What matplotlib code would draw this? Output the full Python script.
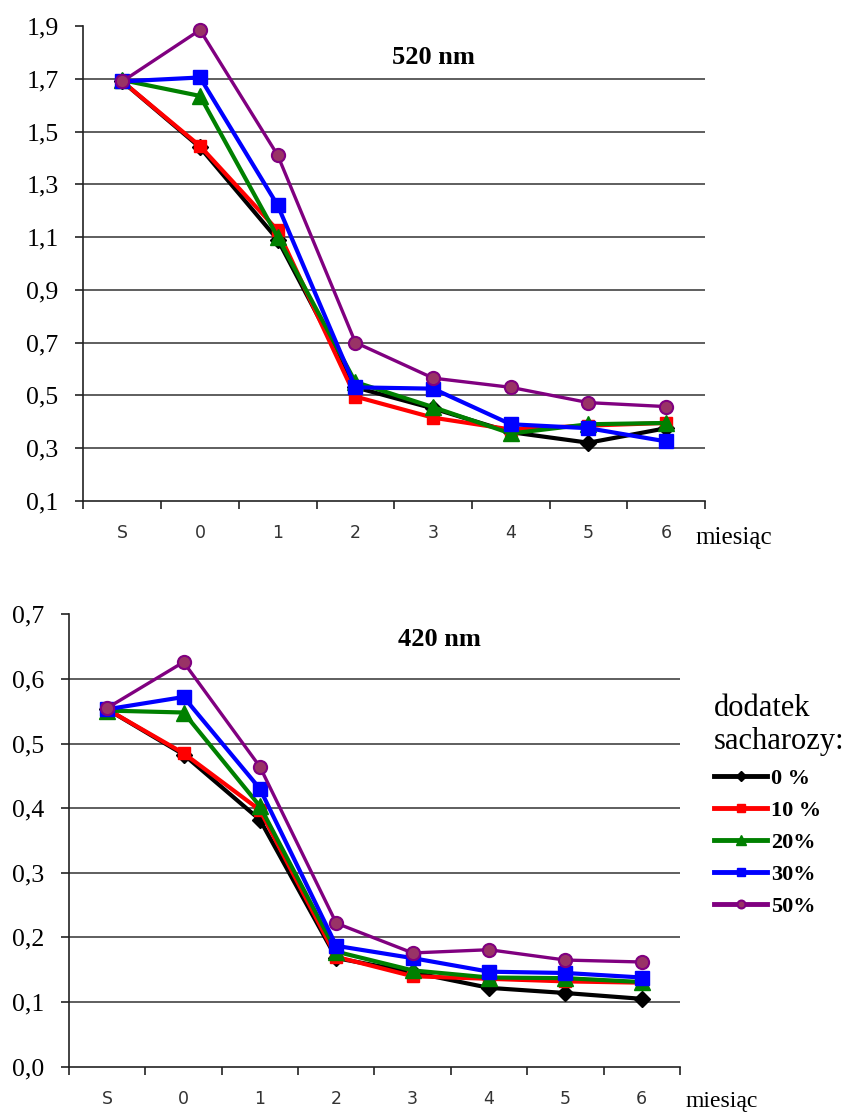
import matplotlib
matplotlib.use("Agg")
import matplotlib.pyplot as plt
from matplotlib.ticker import FixedLocator, FixedFormatter

# ---- data ----
categories = ["S", "0", "1", "2", "3", "4", "5", "6"]
series_labels = ["0 %", "10 %", "20%", "30%", "50%"]

# 520 nm
top_0 = [1.69, 1.44, 1.09, 0.53, 0.45, 0.36, 0.32, 0.375]
top_10 = [1.69, 1.445, 1.125, 0.495, 0.415, 0.37, 0.385, 0.395]
top_20 = [1.695, 1.635, 1.10, 0.55, 0.455, 0.355, 0.39, 0.395]
top_30 = [1.69, 1.705, 1.22, 0.53, 0.525, 0.39, 0.375, 0.325]
top_50 = [1.69, 1.885, 1.41, 0.70, 0.565, 0.53, 0.472, 0.457]

# 420 nm
bot_0 = [0.553, 0.483, 0.382, 0.168, 0.146, 0.122, 0.114, 0.105]
bot_10 = [0.553, 0.485, 0.397, 0.170, 0.140, 0.136, 0.132, 0.130]
bot_20 = [0.551, 0.548, 0.403, 0.178, 0.149, 0.138, 0.137, 0.131]
bot_30 = [0.553, 0.572, 0.430, 0.187, 0.168, 0.147, 0.145, 0.138]
bot_50 = [0.555, 0.626, 0.464, 0.222, 0.176, 0.181, 0.165, 0.162]

top_yticks = [0.1, 0.3, 0.5, 0.7, 0.9, 1.1, 1.3, 1.5, 1.7, 1.9]
top_ylabels = ["0,1", "0,3", "0,5", "0,7", "0,9", "1,1", "1,3", "1,5", "1,7", "1,9"]
bot_yticks = [0.0, 0.1, 0.2, 0.3, 0.4, 0.5, 0.6, 0.7]
bot_ylabels = ["0,0", "0,1", "0,2", "0,3", "0,4", "0,5", "0,6", "0,7"]

# ---- styles ----
styles = [
    dict(color="black", marker="D", ms=8, lw=3.0, mfc="black", mec="black"),
    dict(color="#ff0000", marker="s", ms=9, lw=3.0, mfc="#ff0000", mec="#ff0000"),
    dict(color="#008000", marker="^", ms=11, lw=3.0, mfc="#008000", mec="#008000"),
    dict(color="#0000ff", marker="s", ms=9.5, lw=3.0, mfc="#0000ff", mec="#0000ff"),
    dict(color="#800080", marker="o", ms=9.5, lw=2.4, mfc="#993366", mec="#800080", mew=1.5),
]

serif = ["Liberation Serif", "DejaVu Serif"]

fig = plt.figure(figsize=(8.49, 11.13), dpi=100)
ax1 = fig.add_axes([0.0983, 0.5501, 0.7321, 0.4265])
ax2 = fig.add_axes([0.0813, 0.0416, 0.7196, 0.4065])

x = list(range(len(categories)))


def style_axes(ax, yticks, ylabels, ylim):
    ax.set_xlim(-0.5, len(categories) - 0.5)
    ax.set_ylim(*ylim)
    for s in ["top", "right"]:
        ax.spines[s].set_visible(False)
    for s in ["left", "bottom"]:
        ax.spines[s].set_color("#222222")
        ax.spines[s].set_linewidth(1.2)
    ax.set_yticks(yticks)
    ax.set_yticklabels(ylabels, fontfamily=serif, fontsize=18.5)
    ax.tick_params(axis="y", direction="out", length=6, width=1.2, pad=12, colors="#222222",
                   labelcolor="black")
    for yv in yticks[1:-1]:
        ax.axhline(yv, color="#333333", lw=1.1, zorder=1)
    ax.xaxis.set_major_locator(FixedLocator(x))
    ax.xaxis.set_major_formatter(FixedFormatter(categories))
    ax.xaxis.set_minor_locator(FixedLocator([i - 0.5 for i in range(len(categories) + 1)]))
    ax.tick_params(axis="x", which="major", length=0, pad=17, labelsize=12.5, labelcolor="#333333")
    ax.tick_params(axis="x", which="minor", length=6, width=1.2, direction="out", colors="#222222")
    for lab in ax.get_xticklabels():
        lab.set_fontfamily("DejaVu Sans")


style_axes(ax1, top_yticks, top_ylabels, (0.1, 1.9))
style_axes(ax2, bot_yticks, bot_ylabels, (0.0, 0.7))

handles = []
for data, st, lab in zip([top_0, top_10, top_20, top_30, top_50], styles, series_labels):
    ax1.plot(x, data, zorder=3, clip_on=False, label=lab, **st)
for data, st, lab in zip([bot_0, bot_10, bot_20, bot_30, bot_50], styles, series_labels):
    h, = ax2.plot(x, data, zorder=3, clip_on=False, label=lab, **st)
    handles.append(h)

fig.text(433 / 849, 1 - 58 / 1113, "520 nm", fontfamily=serif, fontsize=19, fontweight="bold",
         ha="center", va="center")
fig.text(439 / 849, 1 - 639 / 1113, "420 nm", fontfamily=serif, fontsize=19, fontweight="bold",
         ha="center", va="center")
fig.text(695 / 849, 1 - 538 / 1113, "miesiąc", fontfamily=serif, fontsize=18,
         ha="left", va="center")
fig.text(685 / 849, 1 - 1112 / 1113, "miesiąc", fontfamily=serif, fontsize=17,
         ha="left", va="bottom")

leg = fig.legend(handles=handles, labels=series_labels, loc="upper left",
                 bbox_to_anchor=(714 / 849, 1 - 694 / 1113), frameon=False,
                 title="dodatek\nsacharozy:", alignment="left",
                 prop=dict(family=serif, size=16, weight="bold"),
                 title_fontproperties=dict(family=serif, size=22),
                 handlelength=2.4, handletextpad=0.15, labelspacing=0.52,
                 borderpad=0, borderaxespad=0, markerscale=0.6)
for line in leg.get_lines():
    line.set_linewidth(3.5)

fig.savefig("out.png", dpi=100)
